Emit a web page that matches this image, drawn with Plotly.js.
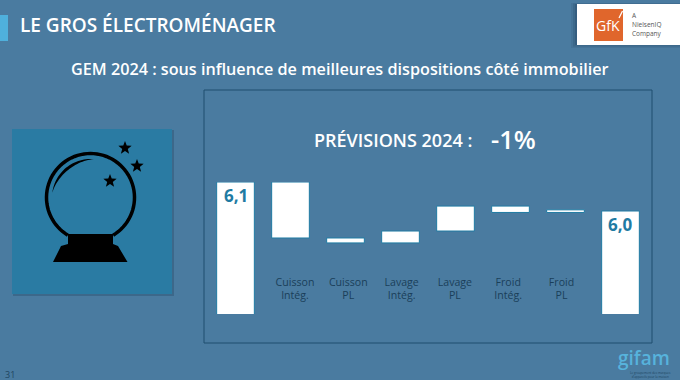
<!DOCTYPE html>
<html><head><meta charset="utf-8">
<script src="https://cdn.plot.ly/plotly-3.0.1.min.js"></script>
<style>html,body{margin:0;padding:0;background:#4a7ba0}#c{width:680px;height:380px}</style>
</head><body><div id="c"></div>
<script>
// Data (totals and the contributions between them)
const barNames = ["2023","Cuisson Intég.","Cuisson PL","Lavage Intég.","Lavage PL","Froid Intég.","Froid PL","2024"];
const measures = ["absolute","relative","relative","relative","relative","relative","relative","absolute"];
const barValues = [6.1,-0.193,-0.017,0.041,0.086,-0.022,0.009,6.0];
const barLabels = ["6,1","","","","","","","6,0"];
const tickPositions = [1,2,3,4,5,6];
const tickLabels = ["Cuisson<br>Intég.","Cuisson<br>PL","Lavage<br>Intég.","Lavage<br>PL","Froid<br>Intég.","Froid<br>PL"];

const W=680,H=380;
const px=x=>x/W, py=y=>1-y/H;
const font='"Open Sans","Noto Sans",sans-serif';
const rect=(x0,y0,x1,y1,fill,line,lw,layer)=>({type:'rect',xref:'paper',yref:'paper',x0:px(x0),x1:px(x1),y0:py(y0),y1:py(y1),
  fillcolor:fill||'rgba(0,0,0,0)',line:{color:line||'rgba(0,0,0,0)',width:lw||0},layer:layer||'below'});
const pathS=(pts,fill)=>({type:'path',xref:'paper',yref:'paper',
  path:pts.map((p,i)=>(i?'L':'M')+px(p[0])+','+py(p[1])).join(' ')+' Z',fillcolor:fill,line:{color:'rgba(0,0,0,0)',width:0},layer:'below'});
function star(cx,cy,r){const out=[];for(let i=0;i<10;i++){const a=-Math.PI/2+i*Math.PI/5,q=i%2?r*0.42:r;out.push([cx+q*Math.cos(a),cy+q*Math.sin(a)]);}return pathS(out,'#000');}
function arc(cx,cy,r,a0,a1,n){const o=[];for(let i=0;i<=n;i++){const a=(a0+(a1-a0)*i/n)*Math.PI/180;o.push([cx+r*Math.cos(a),cy+r*Math.sin(a)]);}return o;}
function openPath(pts,line,lw,layer){return {type:'path',xref:'paper',yref:'paper',path:pts.map((p,i)=>(i?'L':'M')+px(p[0])+','+py(p[1])).join(' '),line:{color:line,width:lw},layer:layer||'below'};}
// crescent highlight inside the ball
function crescent(cx,cy,r,a0,a1,t,n){const o=[],b=[];for(let i=0;i<=n;i++){const u=i/n,a=(a0+(a1-a0)*u)*Math.PI/180,q=r-t*Math.sin(Math.PI*u);
  o.push([cx+r*Math.cos(a),cy+r*Math.sin(a)]);b.unshift([cx+q*Math.cos(a),cy+q*Math.sin(a)]);}return pathS(o.concat(b),'#000');}

const shapes=[
  rect(0,15,8,41,'#4fb0dc'),
  rect(204,90,652,343,null,'#1f4e6e',1),
  // icon tile
  rect(13,130,174,296,'rgba(30,60,90,0.3)'),
  rect(12,129,172,294,'#2a7ba3'),
  // crystal ball
  openPath(arc(90.5,197.5,44,121,419,70),'#000',3.5),
  crescent(90.5,197.5,38.5,-85,-173,3,30),
  pathS([[68,234],[113,234],[113,244],[118,246],[127.5,262],[53,262],[61,246],[68,244]],'#000'),
  star(125,148,7),star(137,166,7),star(110,181,7),
  // logo
  rect(571,3,680,48,'rgba(30,60,90,0.12)'),
  rect(573,3.5,680,46.5,'rgba(30,60,90,0.18)'),
  rect(575,4,680,45,'rgba(30,60,90,0.25)'),
  rect(577,4,680,45,'#ffffff'),
  rect(594,9,623,41,'#e0662c'),
  openPath([[619,18],[622.5,11]],'#ffffff',1.2,'above')
];

const annotations=[
  {text:'LE GROS ÉLECTROMÉNAGER',x:px(18),y:py(25),size:19,w:600,c:'#fff',a:'left'},
  {text:'GEM 2024 : sous influence de meilleures dispositions côté immobilier',x:px(339.5),y:py(69),size:16.2,w:600,c:'#fff',a:'center'},
  {text:'PRÉVISIONS 2024 :',x:px(312),y:py(140),size:18,w:600,c:'#fff',a:'left'},
  {text:'-1%',x:px(489),y:py(139),size:25.5,w:600,c:'#fff',a:'left'},
  {text:'GfK',x:px(608),y:py(26),size:14,w:500,c:'#fff',a:'center'},
  {text:'A',x:px(630),y:py(15.5),size:6.5,w:400,c:'#555',a:'left'},
  {text:'NielsenIQ',x:px(630),y:py(25),size:6.5,w:400,c:'#555',a:'left'},
  {text:'Company',x:px(630),y:py(33.5),size:6.5,w:400,c:'#555',a:'left'},
  {text:'gifam',x:px(643.5),y:py(358),size:19,w:600,c:'#57b3dc',a:'center'},
  {text:'Le groupement des marques<br>d\'appareils pour la maison',x:px(650),y:py(375),size:3,w:400,c:'#1f4560',a:'center'},
  {text:'31',x:px(3),y:py(374.5),size:9,w:400,c:'#1f4560',a:'left'}
].map(o=>({text:o.text,xref:'paper',yref:'paper',x:o.x,y:o.y,xanchor:o.a,yanchor:'middle',showarrow:false,
  font:{family:font,size:o.size,color:o.c,weight:o.w}}));
// value labels sit at the top of the two total bars
barLabels.forEach((t,i)=>{ if(t) annotations.push({text:t,xref:'x',yref:'y',x:i,y:barValues[i],xanchor:'center',yanchor:'top',yshift:0,showarrow:false,
  font:{family:font,size:17,color:'#1f7ba3',weight:700}}); });

const barStyle={marker:{color:'#fff',line:{color:'#1f7ba3',width:1}}};
const trace={type:'waterfall',x:barNames.map((_,i)=>i),y:barValues,measure:measures,
  width:0.685,connector:{visible:false},
  increasing:barStyle,decreasing:barStyle,totals:barStyle,
  hoverinfo:'skip',showlegend:false,xaxis:'x',yaxis:'y'};
// invisible carrier of the category labels, whose spacing is narrower than the bars'
const labelTrace={type:'scatter',mode:'markers',x:tickPositions,y:tickPositions.map(()=>5.7),marker:{opacity:0},
  hoverinfo:'skip',showlegend:false,xaxis:'x2',yaxis:'y'};

// category labels: position 1 at x=295, spacing 53.3 px
const x2a=1+(208-295)/53.3, x2b=1+(648-295)/53.3;
Plotly.newPlot('c',[trace,labelTrace],{
  width:W,height:H,margin:{l:0,r:0,t:0,b:0},paper_bgcolor:'#4a7ba0',plot_bgcolor:'rgba(0,0,0,0)',
  showlegend:false,
  xaxis:{domain:[px(208),px(648)],range:[-0.5,7.5],showgrid:false,zeroline:false,showline:false,showticklabels:false,ticks:'',fixedrange:true},
  xaxis2:{domain:[px(208),px(648)],overlaying:'x',anchor:'free',position:py(274),side:'bottom',range:[x2a,x2b],tickmode:'array',tickvals:tickPositions,ticktext:tickLabels,
    showgrid:false,zeroline:false,showline:false,ticks:'',automargin:false,
    tickfont:{family:font,size:10.6,color:'#1a3f5a',weight:500}},
  yaxis:{domain:[py(314),py(182)],range:[5.645,6.1],showgrid:false,zeroline:false,showline:false,showticklabels:false,ticks:'',fixedrange:true,anchor:'x'},
  shapes,annotations
},{staticPlot:true,displayModeBar:false});
</script></body></html>
